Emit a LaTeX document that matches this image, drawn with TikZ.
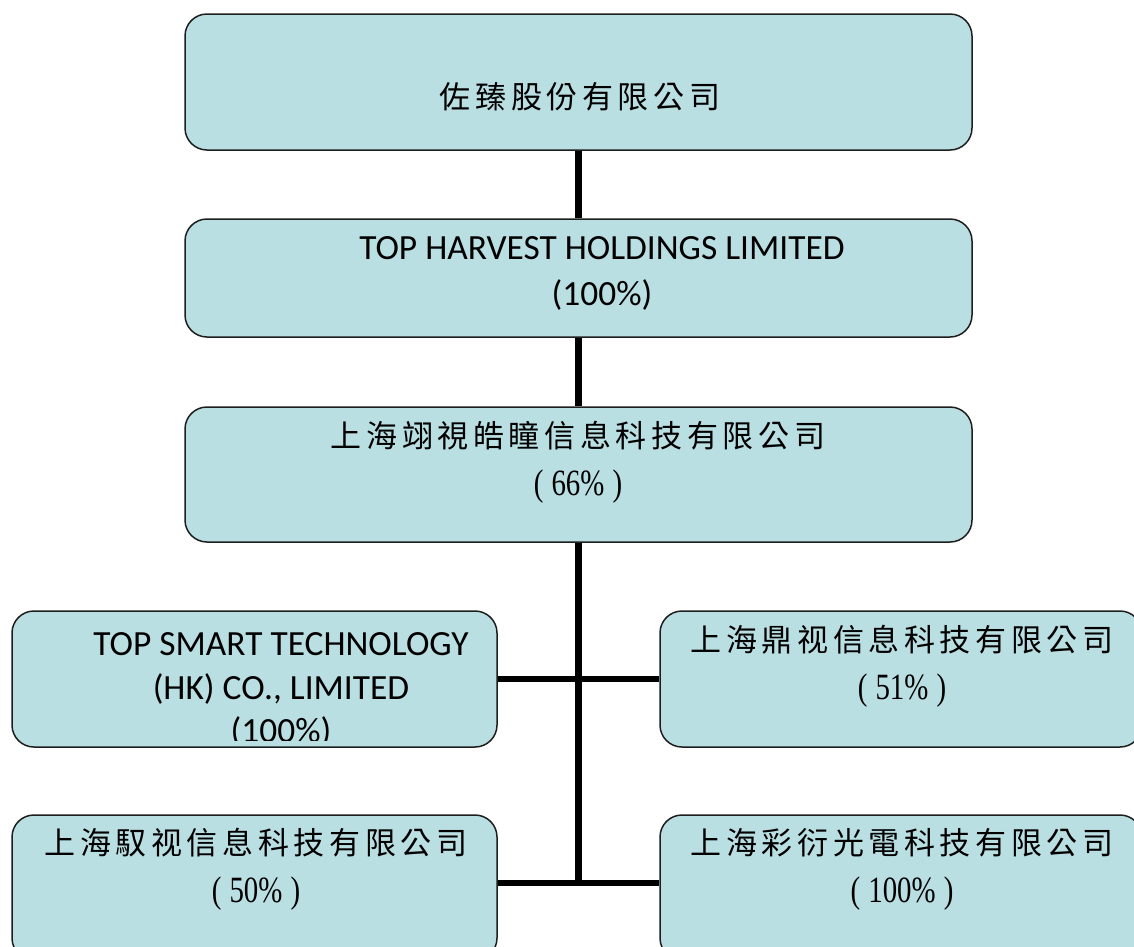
\documentclass[tikz,border=0pt]{standalone}
\usepackage{graphicx}
\usepackage{fontspec}
\setmainfont{Carlito}
\newfontfamily\cjk[LetterSpace=15]{Noto Sans CJK TC}
\newfontfamily\num{Liberation Serif}
\definecolor{boxfill}{RGB}{186,223,227}
\definecolor{boxline}{RGB}{30,30,30}
\newcommand{\pct}[1]{{\num\fontsize{39}{48}\selectfont\scalebox{0.74}[0.95]{(\hspace{11pt}#1\%\hspace{11pt})}}}
\tikzset{
  orgbox/.style={draw=boxline, line width=1.5pt, fill=boxfill, rounded corners=22pt, inner sep=0pt},
  link/.style={line width=6.5pt, draw=black},
  entxt/.style={align=center, font=\fontsize{35.4}{46}\selectfont, inner sep=0pt},
  cntxt/.style={align=center, font=\fontsize{31}{48}\selectfont, inner sep=0pt},
}
\begin{document}
\begin{tikzpicture}[x=1pt,y=-1pt]
\useasboundingbox (0,0) rectangle (1134,946);
\clip (0,0) rectangle (1134,946);
% boxes
\node[orgbox, minimum width=787pt, minimum height=136pt] (top) at (578.5,82) {};
\node[orgbox, minimum width=787pt, minimum height=118pt] (th) at (578.5,278) {};
\node[orgbox, minimum width=787pt, minimum height=135pt] (sh) at (578.5,474.5) {};
\node[orgbox, minimum width=485pt, minimum height=136pt] (tsm) at (254.5,679) {};
\node[orgbox, minimum width=482pt, minimum height=136pt] (ds) at (901,679) {};
\node[orgbox, minimum width=485pt, minimum height=145pt] (ys) at (254.5,887.5) {};
\node[orgbox, minimum width=482pt, minimum height=145pt] (cy) at (901,887.5) {};
% connectors
\coordinate (j2) at (578.5,883);
\draw[link] (top.south) -- (th.north);
\draw[link] (th.south) -- (sh.north);
\draw[link] (sh.south) -- (j2);
\draw[link] (tsm.east) -- (ds.west);
\draw[link] (ys.east |- j2) -- (cy.west |- j2);
% texts
\node[cntxt] (t1) at (580,97) {\cjk 佐臻股份有限公司};
\node[entxt] (t2) at (602,273) {TOP HARVEST HOLDINGS LIMITED\\(100\%)};
\node[cntxt] (t3) at (578,462) {\cjk 上海翊視皓瞳信息科技有限公司\\\pct{66}};
\begin{scope}
\clip (12,611) rectangle (497,740);
\node[entxt, font=\fontsize{35.4}{43.5}\selectfont] (t4) at (281,690) {TOP SMART TECHNOLOGY\\(HK) CO., LIMITED\\(100\%)};
\end{scope}
\node[cntxt] (t5) at (902,666) {\cjk 上海鼎视信息科技有限公司\\\pct{51}};
\node[cntxt] (t6) at (256,869) {\cjk 上海馭视信息科技有限公司\\\pct{50}};
\node[cntxt] (t7) at (902,869) {\cjk 上海彩衍光電科技有限公司\\\pct{100}};
\end{tikzpicture}
\end{document}
